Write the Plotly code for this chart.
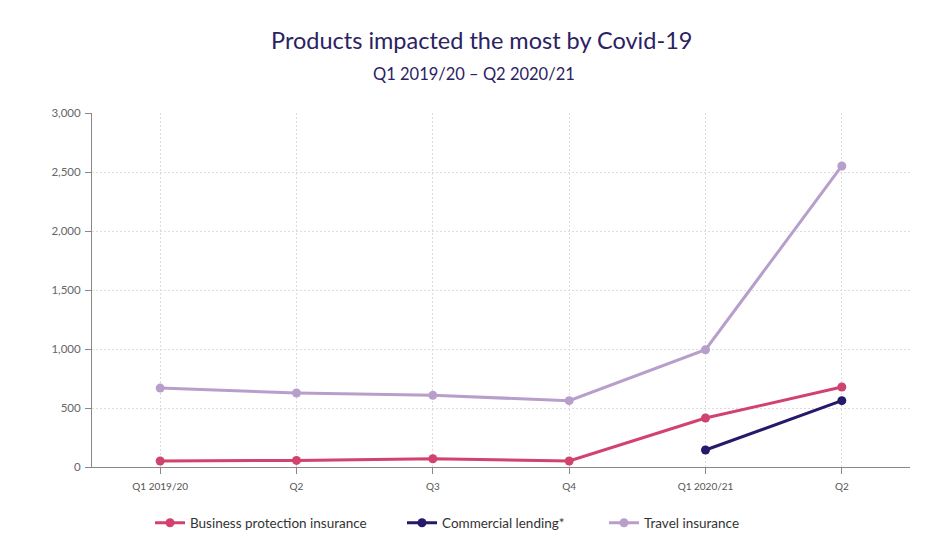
import plotly.graph_objects as go

categories = ["Q1 2019/20", "Q2", "Q3", "Q4", "Q1 2020/21", "Q2"]
business_protection = [51, 56, 70, 51, 415, 678]
commercial_lending = [None, None, None, None, 144, 562]
travel_insurance = [669, 627, 607, 562, 994, 2551]
y_ticks = [0, 500, 1000, 1500, 2000, 2500, 3000]

FONT = "Lato"
W, H = 951, 550
OFF = 8  # page offset of the figure in the browser
L, R, T, B = 92 - OFF, 41 + OFF, 113 - OFF, 83 + OFF

x_idx = list(range(len(categories)))

series = [
    ("Business protection insurance", business_protection, "#d1426f", "legend", 142),
    ("Commercial lending*", commercial_lending, "#25196a", "legend2", 394),
    ("Travel insurance", travel_insurance, "#b89fcb", "legend3", 596),
]

fig = go.Figure()
for name, vals, col, leg, _ in series:
    fig.add_trace(go.Scatter(
        x=x_idx, y=vals, name=name, mode="lines+markers",
        line=dict(color=col, width=3), marker=dict(color=col, size=9),
        legend=leg, connectgaps=False,
    ))

legend_common = dict(
    orientation="h", xref="container", yref="container",
    y=1 - (523 - OFF) / H, yanchor="middle", xanchor="left",
    font=dict(family=FONT, size=13.5, color="#333333"),
    bgcolor="rgba(0,0,0,0)", itemwidth=30,
)
layout_legends = {}
for name, vals, col, leg, px in series:
    layout_legends[leg] = dict(legend_common, x=px / W)

pw = W - L - R
ph = H - T - B

fig.update_layout(
    width=W, height=H,
    margin=dict(l=L, r=R, t=T, b=B, autoexpand=False),
    paper_bgcolor="white", plot_bgcolor="white",
    font=dict(family=FONT, color="#666666"),
    showlegend=True,
    **layout_legends,
    xaxis=dict(
        tickmode="array", tickvals=x_idx, ticktext=categories,
        range=[-0.5, len(categories) - 0.5],
        showline=True, linecolor="#888888", linewidth=1,
        ticks="outside", ticklen=6, tickcolor="#888888",
        ticklabelstandoff=4,
        showgrid=True, gridcolor="#dcdcdc", griddash="2px,2px", gridwidth=1,
        tickfont=dict(family=FONT, size=10, color="#555555"),
        zeroline=False, fixedrange=True,
    ),
    yaxis=dict(
        tickmode="array", tickvals=y_ticks,
        ticktext=[f"{v:,}" for v in y_ticks],
        range=[0, 3000],
        showline=True, linecolor="#888888", linewidth=1,
        ticks="outside", ticklen=6, tickcolor="#888888",
        ticklabelstandoff=2,
        showgrid=True, gridcolor="#dcdcdc", griddash="2px,2px", gridwidth=1,
        tickfont=dict(family=FONT, size=11.5, color="#666666"),
        zeroline=False, fixedrange=True,
    ),
    annotations=[
        dict(text="Products impacted the most by Covid-19", xref="paper", yref="paper",
             x=(481 - OFF - L) / pw, y=1 + (T - (40 - OFF)) / ph,
             xanchor="center", yanchor="middle", showarrow=False,
             font=dict(family=FONT, size=23.5, color="#2b2262")),
        dict(text="Q1 2019/20 – Q2 2020/21", xref="paper", yref="paper",
             x=(474 - OFF - L) / pw, y=1 + (T - (74 - OFF)) / ph,
             xanchor="center", yanchor="middle", showarrow=False,
             font=dict(family=FONT, size=16.5, color="#2b2262")),
    ],
)

fig.write_html("out.html")
